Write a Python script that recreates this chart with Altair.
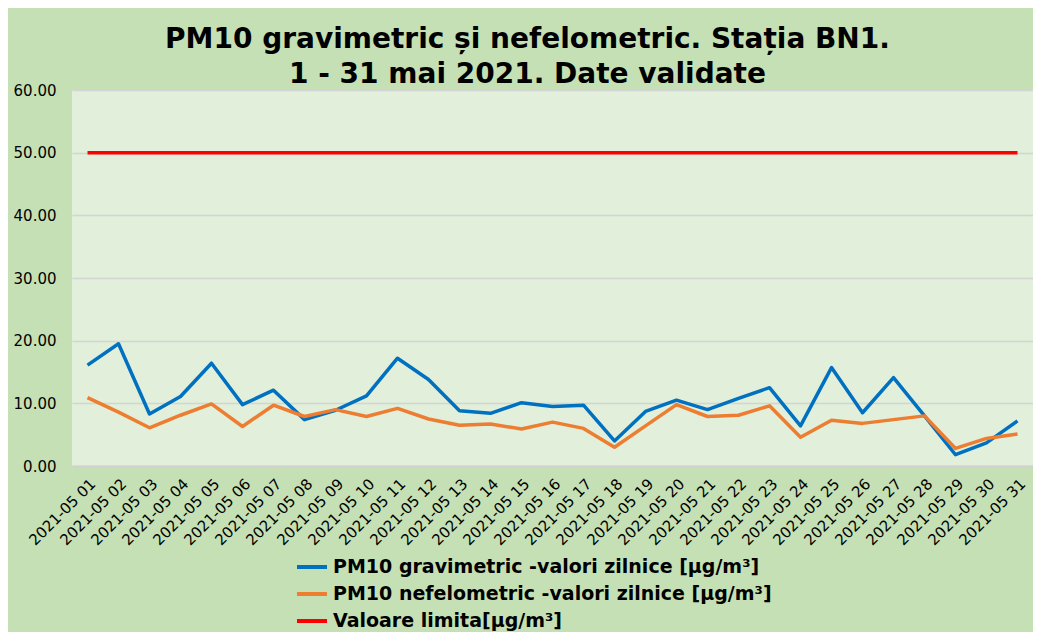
import altair as alt
import pandas as pd

days = [f"2021-05 {d:02d}" for d in range(1, 32)]
gravimetric = [16.1, 19.5, 8.3, 11.1, 16.4, 9.8, 12.1, 7.4, 8.9, 11.2,
               17.2, 13.8, 8.8, 8.4, 10.1, 9.5, 9.7, 4.0, 8.7, 10.5,
               9.0, 10.8, 12.5, 6.4, 15.7, 8.5, 14.1, 8.0, 1.8, 3.7, 7.2]
nefelometric = [10.9, 8.6, 6.1, 8.1, 9.9, 6.3, 9.7, 7.9, 9.0, 7.9,
                9.2, 7.5, 6.5, 6.7, 5.9, 7.0, 6.0, 3.0, 6.4, 9.8,
                7.9, 8.1, 9.6, 4.6, 7.3, 6.8, 7.4, 8.0, 2.8, 4.4, 5.1]
limit = [50.0] * 31

series_names = [
    "PM10 gravimetric -valori zilnice [µg/m³]",
    "PM10 nefelometric -valori zilnice [µg/m³]",
    "Valoare limita[µg/m³]",
]
series_colors = ["#0070c0", "#ed7d31", "#ff0000"]

rows = []
for name, vals in zip(series_names, [gravimetric, nefelometric, limit]):
    for d, v in zip(days, vals):
        rows.append({"Data": d, "Valoare": v, "Serie": name})
df = pd.DataFrame(rows)

FONT = "DejaVu Sans"

chart = alt.Chart(df).mark_line(strokeWidth=3.5, strokeJoin="round").encode(
    x=alt.X("Data:O", sort=days,
            scale=alt.Scale(type="point", padding=0.5),
            axis=alt.Axis(title=None, labelAngle=-45, labelFontSize=15,
                          labelFont=FONT, labelColor="#000000", ticks=False,
                          domainColor="#d0d0d0", domainWidth=2, labelPadding=10,
                          grid=False)),
    y=alt.Y("Valoare:Q",
            scale=alt.Scale(domain=[0, 60], nice=False),
            axis=alt.Axis(title=None, values=[0, 10, 20, 30, 40, 50, 60],
                          format=".2f", labelFontSize=15, labelFont=FONT,
                          labelColor="#000000", ticks=False, domain=False,
                          gridColor="#d4d4d4", gridWidth=1.5, labelPadding=16)),
    color=alt.Color("Serie:N", sort=series_names,
                    scale=alt.Scale(domain=series_names, range=series_colors),
                    legend=alt.Legend(title=None, orient="none", legendX=223,
                                      legendY=460, symbolType="stroke",
                                      symbolSize=900, symbolStrokeWidth=4,
                                      labelFont=FONT, labelFontSize=19,
                                      labelFontWeight="bold", labelColor="#000000",
                                      labelOffset=4, rowPadding=0, padding=0,
                                      labelLimit=600)),
    order=alt.Order("Serie:N"),
).properties(
    width=961,
    height=376,
    background="#c5e0b4",
    padding={"left": 64, "top": 82, "right": 0, "bottom": 166},
    autosize=alt.AutoSizeParams(type="none"),
    title=alt.Title(
        text=["PM10 gravimetric și nefelometric. Stația BN1.",
              "1 - 31 mai 2021. Date validate"],
        font=FONT, fontSize=28, fontWeight="bold", color="#000000",
        anchor="middle", lineHeight=35, offset=8, dx=-25, dy=14),
).configure_view(fill="#e2efda", stroke=None)

chart.save("out.html", embed_options={"renderer": "svg", "actions": False})
